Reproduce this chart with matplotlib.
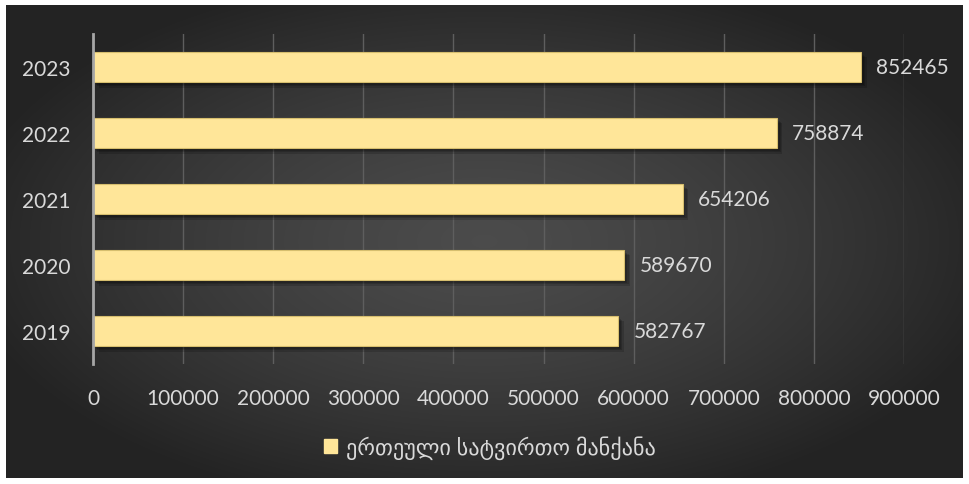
import numpy as np
import matplotlib
matplotlib.use("Agg")
import matplotlib.pyplot as plt
import matplotlib.patheffects as pe

# data
years = ["2019", "2020", "2021", "2022", "2023"]
trucks = [582767, 589670, 654206, 758874, 852465]
x_ticks = [0, 100000, 200000, 300000, 400000, 500000, 600000, 700000, 800000, 900000]
series_name = "ერთეული სატვირთო მანქანა"

BAR_COLOR = "#FFE699"
TEXT_COLOR = "#D9D9D9"
FONT = ["Lato", "DejaVu Sans"]

fig = plt.figure(figsize=(9.69, 4.85), dpi=100, facecolor="white")

# radial dark background inside a thin white frame
bg = fig.add_axes([6 / 969, 6 / 485, 957 / 969, 473 / 485], zorder=0)
yy, xx = np.mgrid[-1:1:300j, -1:1:600j]
r = np.sqrt((xx / 1.05) ** 2 + (yy / 1.1) ** 2)
shade = np.clip(0.295 - 0.145 * r ** 1.4, 0.14, 0.3)
img = np.dstack([shade, shade, shade])
bg.imshow(img, aspect="auto", extent=[0, 1, 0, 1], interpolation="bilinear")
bg.axis("off")

ax = fig.add_axes([93 / 969, 1 - 365 / 485, 811 / 969, 330 / 485], zorder=1)
ax.patch.set_alpha(0)

pos = np.arange(len(years))
bars = ax.barh(pos, trucks, height=0.46, color=BAR_COLOR,
               edgecolor="#D6BE6E", linewidth=0.8, zorder=3)
# soft drop shadow, built from a few faint offset copies
shadow = [pe.SimplePatchShadow(offset=(d, -d), shadow_rgbFace="black", alpha=0.16)
          for d in (1, 2, 3, 4)]
for b in bars:
    b.set_path_effects(shadow + [pe.Normal()])

ax.bar_label(bars, labels=[str(v) for v in trucks], padding=11,
             fontsize=15, color=TEXT_COLOR, family=FONT)

ax.set_xlim(0, 900000)
ax.set_ylim(-0.5, len(years) - 0.5)
ax.set_xticks(x_ticks)
ax.set_xticklabels([str(v) for v in x_ticks])
ax.set_yticks(pos)
ax.set_yticklabels(years)
ax.tick_params(axis="x", length=0, pad=17, labelsize=15, labelcolor=TEXT_COLOR)
ax.tick_params(axis="y", length=0, pad=16, labelsize=15, labelcolor=TEXT_COLOR)
for lbl in ax.get_xticklabels() + ax.get_yticklabels():
    lbl.set_family(FONT)

ax.grid(True, axis="x", color="#5E5E5E", linewidth=1.0, zorder=0)
ax.set_axisbelow(True)
for s in ["top", "right", "bottom"]:
    ax.spines[s].set_visible(False)
ax.spines["left"].set_color("#A6A6A6")
ax.spines["left"].set_linewidth(2)
ax.spines["left"].set_zorder(4)

leg = fig.legend([plt.Rectangle((0, 0), 1, 1, color=BAR_COLOR)], [series_name],
                 loc="center", bbox_to_anchor=(490 / 969, 1 - 448 / 485),
                 frameon=False, handlelength=0.6, handleheight=0.6, handletextpad=0.4,
                 prop={"family": FONT, "size": 16})
for t in leg.get_texts():
    t.set_color(TEXT_COLOR)

fig.savefig("out.png", dpi=100, facecolor="white")
